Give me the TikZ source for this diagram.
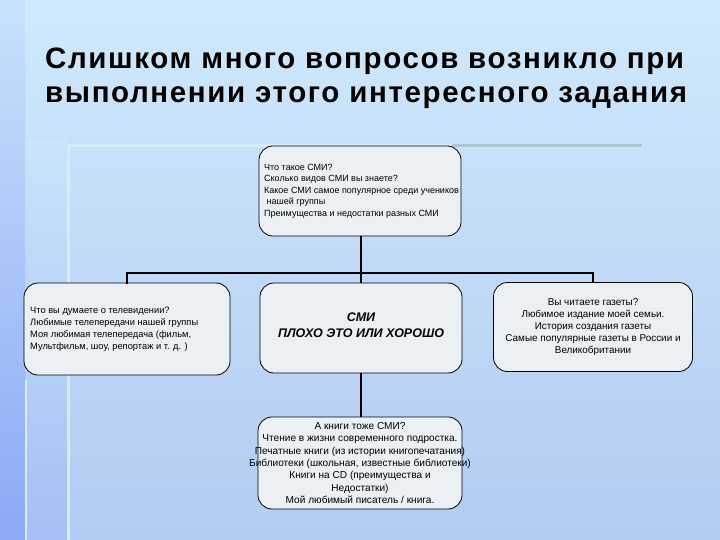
\documentclass[tikz,border=0pt]{standalone}
\usepackage{fontspec}
\setmainfont{Liberation Sans}
\definecolor{bgtop}{HTML}{CFE9FC}
\definecolor{bgbot}{HTML}{B2CBF2}
\definecolor{striptop}{HTML}{C6E2FB}
\definecolor{stripbot}{HTML}{8CA8F6}
\definecolor{midtop}{HTML}{C9E4FB}
\definecolor{midbot}{HTML}{A4BFF4}
\definecolor{boxfill}{HTML}{EAF0F4}
\definecolor{greybar}{HTML}{AFC5CF}
\definecolor{paleline}{HTML}{D6ECFB}
\tikzset{
  qbox/.style={draw=black, line width=0.8pt, fill=boxfill, rounded corners=14pt, inner sep=0pt},
  qtext/.style={inner sep=0pt, font=\fontsize{9.3}{11.9}\selectfont},
  conn/.style={draw=black, line width=1.8pt},
  titletext/.style={font=\fontsize{29.5}{34}\selectfont\bfseries\addfontfeatures{LetterSpace=5.5}, inner sep=0pt}
}
\begin{document}
\begin{tikzpicture}[x=1pt,y=-1pt]
\useasboundingbox (0,0) rectangle (720,540);
% background
\shade[top color=bgtop, bottom color=bgbot] (0,0) rectangle (720,540);
\shade[top color=midtop, bottom color=midbot] (25,140) rectangle (68,540);
\shade[top color=striptop, bottom color=stripbot] (0,0) rectangle (25,540);
\fill[paleline] (25,380) rectangle (27,540);
\fill[paleline] (67,146) rectangle (70,540);
\fill[paleline] (67,144) rectangle (452,147);
\fill[greybar] (452,144) rectangle (642,147);
% title
\node[titletext, anchor=base west] (t1) at (45,69) {Слишком много вопросов возникло при};
\node[titletext, anchor=base west] (t2) at (45,103) {выполнении этого интересного задания};
% boxes
\node[qbox, minimum width=202pt, minimum height=90pt] (top) at (360,191) {};
\node[qtext, anchor=west, align=left, font=\fontsize{9}{11.6}\selectfont] (topT) at (264,191)
 {Что такое СМИ?\\Сколько видов СМИ вы знаете?\\Какое СМИ самое популярное среди учеников\\\ нашей группы\\Преимущества и недостатки разных СМИ};
\node[qbox, minimum width=206pt, minimum height=92pt] (left) at (127,329) {};
\node[qtext, anchor=west, align=left] (leftT) at (30,329)
 {Что вы думаете о телевидении?\\Любимые телепередачи нашей группы\\Моя любимая телепередача (фильм,\\Мультфильм, шоу, репортаж и т. д. )};
\node[qbox, minimum width=202pt, minimum height=90pt] (mid) at (361,328) {};
\node[qtext, align=center, font=\fontsize{12.5}{16}\selectfont\bfseries\itshape] (midT) at (361,325)
 {СМИ\\ПЛОХО ЭТО ИЛИ ХОРОШО};
\node[qbox, minimum width=199pt, minimum height=89pt] (right) at (593,327) {};
\node[qtext, align=center, font=\fontsize{9.9}{12.1}\selectfont] (rightT) at (593,327)
 {Вы читаете газеты?\\Любимое издание моей семьи.\\История создания газеты\\Самые популярные газеты в России и\\Великобритании};
\node[qbox, minimum width=204pt, minimum height=92pt] (bot) at (360,463) {};
\node[qtext, align=center, font=\fontsize{10.1}{12.3}\selectfont] (botT) at (360,463)
 {А книги тоже СМИ?\\Чтение в жизни современного подростка.\\Печатные книги (из истории книгопечатания)\\Библиотеки (школьная, известные библиотеки)\\Книги на CD (преимущества и\\Недостатки)\\Мой любимый писатель / книга.};
% connectors
\coordinate (hub) at (361,273);
\draw[conn] (top.south -| hub) -- (hub);
\draw[conn, line cap=rect] (left.north) -- (left.north |- hub) -- (right.north |- hub) -- (right.north);
\draw[conn] (hub) -- (mid.north -| hub);
\draw[conn] (mid.south -| hub) -- (bot.north -| hub);
\end{tikzpicture}
\end{document}
